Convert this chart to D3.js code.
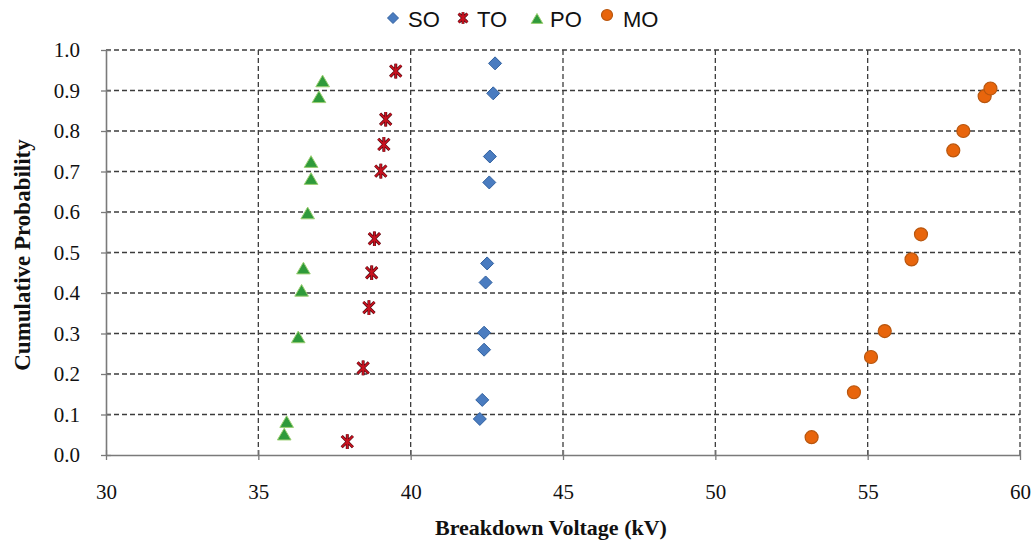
<!DOCTYPE html>
<html>
<head>
<meta charset="utf-8">
<script src="https://cdn.jsdelivr.net/npm/d3@7"></script>
<style>
  html, body { margin: 0; padding: 0; background: #fff; }
  svg { display: block; }
</style>
</head>
<body>
<svg id="chart" width="1035" height="542"></svg>
<script>
// Breakdown voltage (kV) and cumulative probability for each oil sample
const seriesNames = ["SO", "TO", "PO", "MO"];

const soVoltage = [42.27, 42.35, 42.41, 42.41, 42.46, 42.51, 42.58, 42.60, 42.71, 42.77];
const soProb    = [0.089, 0.136, 0.260, 0.302, 0.426, 0.473, 0.673, 0.737, 0.893, 0.967];

const toVoltage = [37.92, 38.44, 38.63, 38.72, 38.81, 39.02, 39.12, 39.18, 39.51];
const toProb    = [0.033, 0.215, 0.364, 0.450, 0.534, 0.701, 0.767, 0.829, 0.948];

const poVoltage = [35.85, 35.93, 36.31, 36.42, 36.48, 36.62, 36.73, 36.73, 36.99, 37.11];
const poProb    = [0.050, 0.081, 0.290, 0.405, 0.460, 0.596, 0.681, 0.723, 0.883, 0.922];

const moVoltage = [53.16, 54.55, 55.11, 55.56, 56.44, 56.75, 57.81, 58.14, 58.84, 59.03];
const moProb    = [0.044, 0.155, 0.242, 0.306, 0.483, 0.545, 0.752, 0.800, 0.886, 0.905];

const xTicks = [30, 35, 40, 45, 50, 55, 60];
const yTicks = [0, 0.1, 0.2, 0.3, 0.4, 0.5, 0.6, 0.7, 0.8, 0.9, 1.0];

const xTitle = "Breakdown Voltage (kV)";
const yTitle = "Cumulative Probability";

const svg = d3.select("#chart");
const W = 1035, H = 542;
const margin = { left: 106, right: 15, top: 50, bottom: 87 };

const x = d3.scaleLinear().domain([30, 60]).range([margin.left, W - margin.right]);
const y = d3.scaleLinear().domain([0, 1]).range([H - margin.bottom, margin.top]);

const serif = "'Liberation Serif', 'Times New Roman', serif";
const sans = "'Liberation Sans', Arial, sans-serif";

// dashed grid
const grid = svg.append("g");
grid.selectAll("line.h").data(yTicks.filter(d => d > 0)).join("line")
  .attr("x1", x(30)).attr("x2", x(60))
  .attr("y1", d => y(d)).attr("y2", d => y(d))
  .attr("stroke", "#3c3c3c").attr("stroke-width", 1.3)
  .attr("stroke-dasharray", "5,3");
grid.selectAll("line.v").data(xTicks.filter(d => d > 30)).join("line")
  .attr("y1", y(0)).attr("y2", y(1))
  .attr("x1", d => x(d)).attr("x2", d => x(d))
  .attr("stroke", "#3c3c3c").attr("stroke-width", 1.3)
  .attr("stroke-dasharray", "5,3");

// axes with ticks crossing the axis line
const xAxis = d3.axisBottom(x).tickValues(xTicks).tickFormat(d3.format("d"))
  .tickSizeInner(5).tickSizeOuter(0).tickPadding(24);
const gx = svg.append("g").attr("transform", `translate(0,${y(0)})`).call(xAxis);
gx.select(".domain").attr("stroke", "#7a7a7a").attr("stroke-width", 1.6);
gx.selectAll(".tick line").attr("stroke", "#7a7a7a").attr("stroke-width", 1.3).attr("y1", -5);
gx.selectAll(".tick text").attr("font-family", serif).attr("font-size", 21).attr("fill", "#111");

const yAxis = d3.axisLeft(y).tickValues(yTicks).tickFormat(d3.format(".1f"))
  .tickSizeInner(5).tickSizeOuter(0).tickPadding(21);
const gy = svg.append("g").attr("transform", `translate(${x(30)},0)`).call(yAxis);
gy.select(".domain").attr("stroke", "#7a7a7a").attr("stroke-width", 1.6);
gy.selectAll(".tick line").attr("stroke", "#7a7a7a").attr("stroke-width", 1.3).attr("x1", 5);
gy.selectAll(".tick text").attr("font-family", serif).attr("font-size", 21).attr("fill", "#111");

// axis titles
svg.append("text")
  .attr("x", (x(30) + x(60)) / 2 - 12).attr("y", 535)
  .attr("text-anchor", "middle")
  .attr("font-family", serif).attr("font-weight", "bold").attr("font-size", 22)
  .attr("fill", "#111").text(xTitle);
svg.append("text")
  .attr("transform", `translate(30,${255}) rotate(-90)`)
  .attr("text-anchor", "middle")
  .attr("font-family", serif).attr("font-weight", "bold").attr("font-size", 23)
  .attr("fill", "#111").text(yTitle);

// marker shapes
const diamond = s => `M0,${-s}L${s},0L0,${s}L${-s},0Z`;
const star = s => {
  const d = s * 0.8;
  return `M${-d},${-d}L${d},${d}M${-d},${d}L${d},${-d}M0,${-s * 1.05}L0,${s * 1.05}`;
};
const triangle = s => `M0,${-s}L${s * 1.05},${s * 0.8}L${-s * 1.05},${s * 0.8}Z`;

const styles = {
  SO: { draw: (g, s) => g.append("path").attr("d", diamond(s)).attr("fill", "#4a7cc0").attr("stroke", "#30609f").attr("stroke-width", 1) },
  TO: { draw: (g, s) => {
          g.append("path").attr("d", star(s)).attr("stroke", "#4a0a10").attr("stroke-width", 3).attr("fill", "none");
          g.append("path").attr("d", star(s)).attr("stroke", "#c8121f").attr("stroke-width", 1.8).attr("fill", "none");
        } },
  PO: { draw: (g, s) => g.append("path").attr("d", triangle(s)).attr("fill", "#2f9a3a").attr("stroke", "#9ccf72").attr("stroke-width", 1) },
  MO: { draw: (g, s) => g.append("circle").attr("r", s).attr("fill", "#e8650c").attr("stroke", "#b8560e").attr("stroke-width", 1.2) }
};

const seriesData = [
  { name: "SO", xs: soVoltage, ys: soProb, size: 6.5 },
  { name: "TO", xs: toVoltage, ys: toProb, size: 7 },
  { name: "PO", xs: poVoltage, ys: poProb, size: 6.5 },
  { name: "MO", xs: moVoltage, ys: moProb, size: 6.5 }
];

const marks = svg.append("g");
seriesData.forEach(sr => {
  sr.xs.forEach((v, i) => {
    const g = marks.append("g").attr("transform", `translate(${x(v)},${y(sr.ys[i])})`);
    styles[sr.name].draw(g, sr.size);
  });
});

// legend
const legendItems = [
  { name: "SO", mx: 393, my: 18, tx: 408, size: 5.5 },
  { name: "TO", mx: 463, my: 18, tx: 477, size: 5.5 },
  { name: "PO", mx: 537, my: 19, tx: 550, size: 5.5 },
  { name: "MO", mx: 607, my: 15, tx: 623, size: 5.5 }
];
const legend = svg.append("g");
legendItems.forEach(it => {
  const g = legend.append("g").attr("transform", `translate(${it.mx},${it.my})`);
  styles[it.name].draw(g, it.size);
  legend.append("text").attr("x", it.tx).attr("y", 27)
    .attr("font-family", sans).attr("font-size", 22).attr("fill", "#111")
    .text(it.name);
});
</script>
</body>
</html>
